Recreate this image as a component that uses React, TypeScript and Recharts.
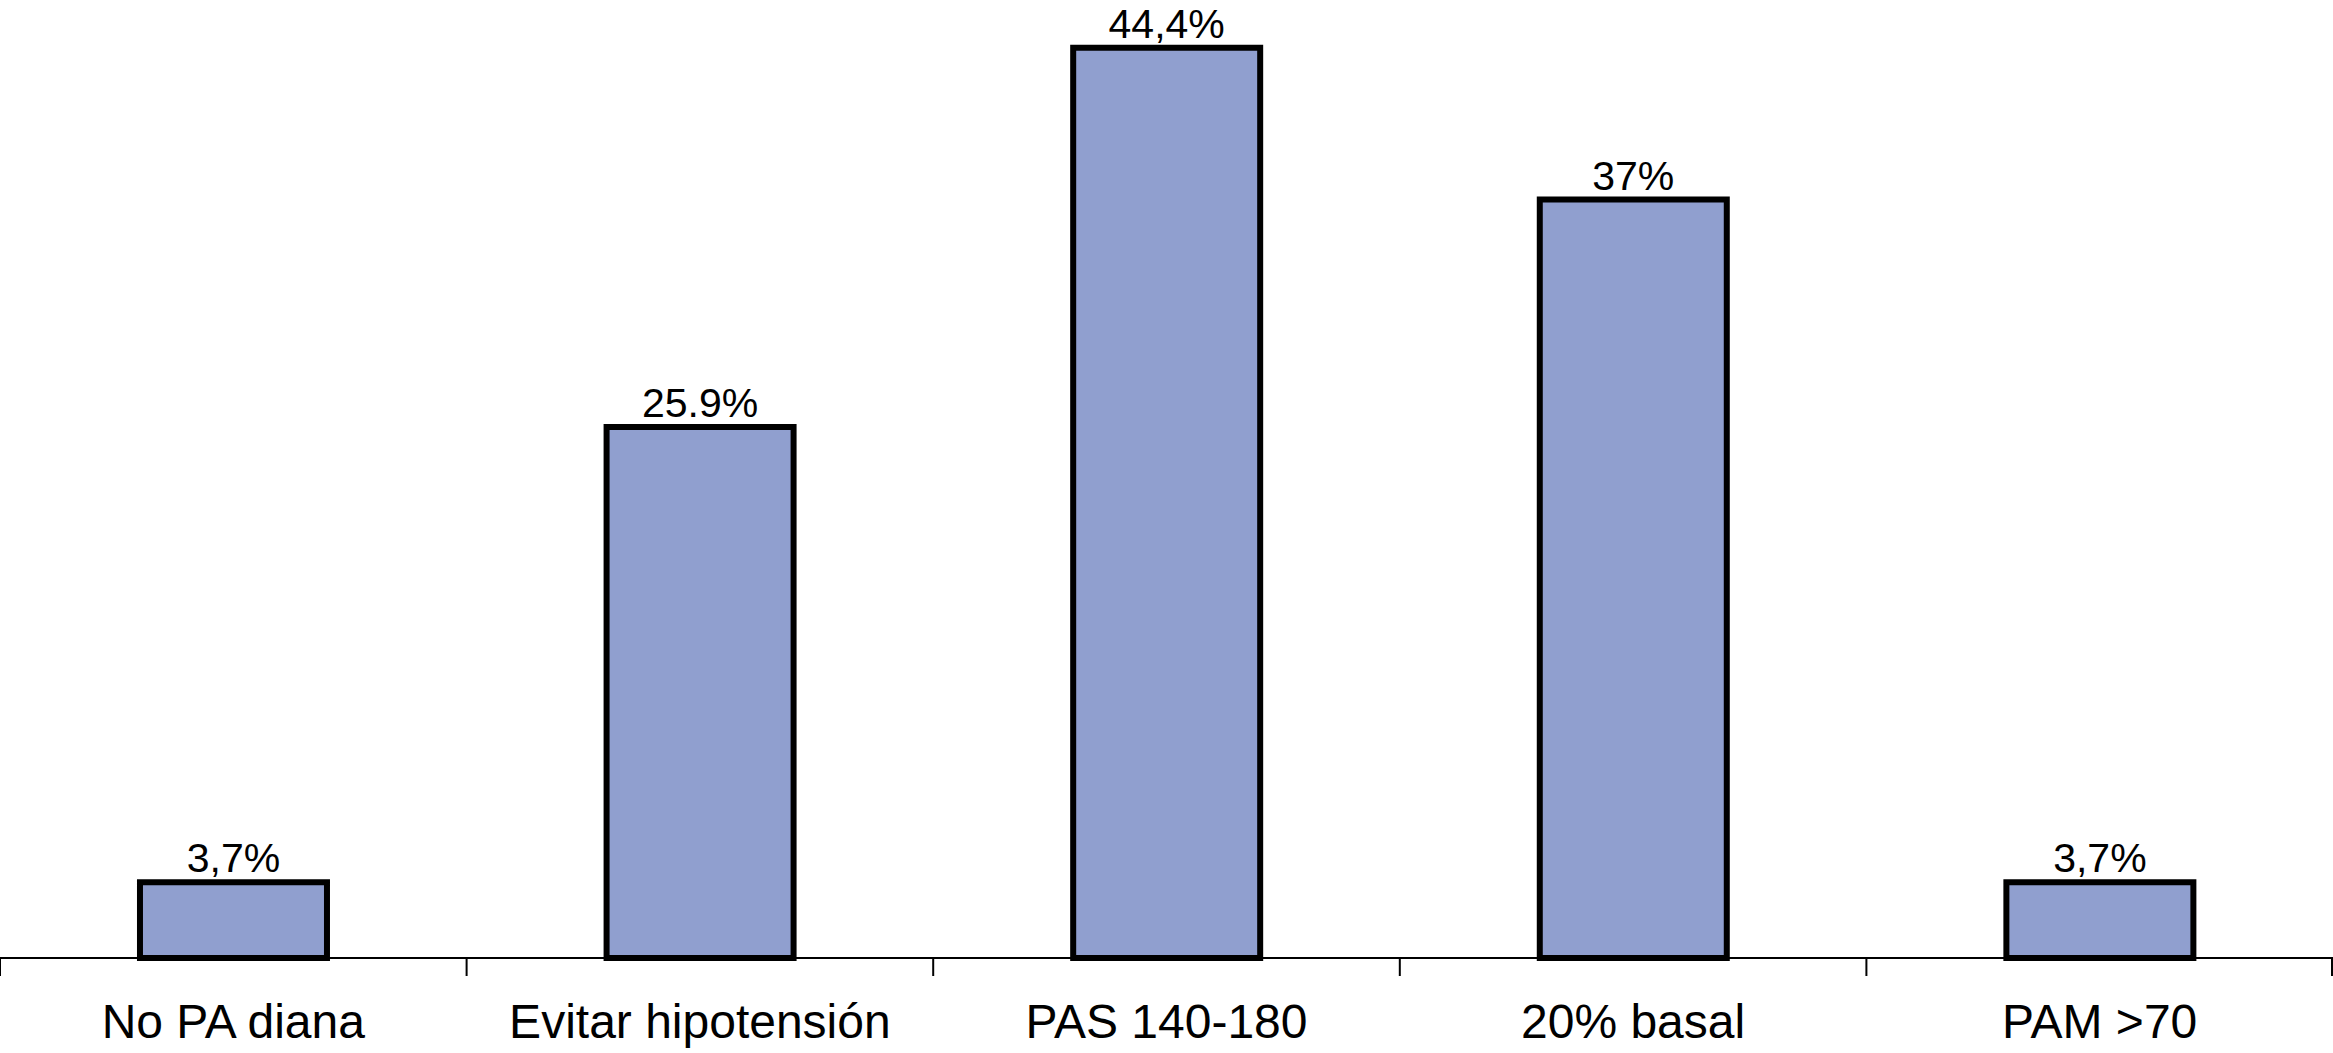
import { BarChart, Bar, XAxis, YAxis, LabelList } from 'recharts';

const categories = ['No PA diana', 'Evitar hipotensión', 'PAS 140-180', '20% basal', 'PAM >70'];
const values = [3.7, 25.9, 44.4, 37, 3.7];
const valueLabels = ['3,7%', '25.9%', '44,4%', '37%', '3,7%'];

const data = categories.map((name, i) => ({ name, value: values[i], label: valueLabels[i] }));

const font = '"Liberation Sans", Arial, sans-serif';

// category label plus tick marks on the band edges (Excel style)
function EdgeTick(props: any) {
  const { x, y, payload, index } = props;
  const half = payload.offset || 0;
  const last = index === categories.length - 1;
  return (
    <g>
      <line x1={x - half} x2={x - half} y1={y} y2={y + 18} stroke="#000" strokeWidth={2} />
      {last && <line x1={x + half - 1} x2={x + half - 1} y1={y} y2={y + 18} stroke="#000" strokeWidth={2} />}
      <text x={x} y={y + 46} dy="0.71em" textAnchor="middle" fill="#000" fontSize={48} fontFamily={font}>
        {payload.value}
      </text>
    </g>
  );
}

export default function App() {
  return (
    <div style={{ width: 2333, height: 1053, background: '#fff' }}>
      <style>{'body{margin:0}'}</style>
      <BarChart
        width={2333}
        height={1053}
        data={data}
        margin={{ top: 15, right: 0, bottom: 0, left: 0 }}
        barCategoryGap="30%"
      >
        <XAxis
          dataKey="name"
          height={95}
          axisLine={{ stroke: '#000', strokeWidth: 2 }}
          tickLine={false}
          tickSize={0}
          tickMargin={0}
          interval={0}
          tick={<EdgeTick />}
        />
        <YAxis hide domain={[0, 46]} />
        <Bar dataKey="value" fill="#909fcf" stroke="#000" strokeWidth={6} isAnimationActive={false}>
          <LabelList
            dataKey="label"
            position="top"
            offset={10}
            fill="#000"
            fontSize={41}
            fontFamily={font}
          />
        </Bar>
      </BarChart>
    </div>
  );
}
